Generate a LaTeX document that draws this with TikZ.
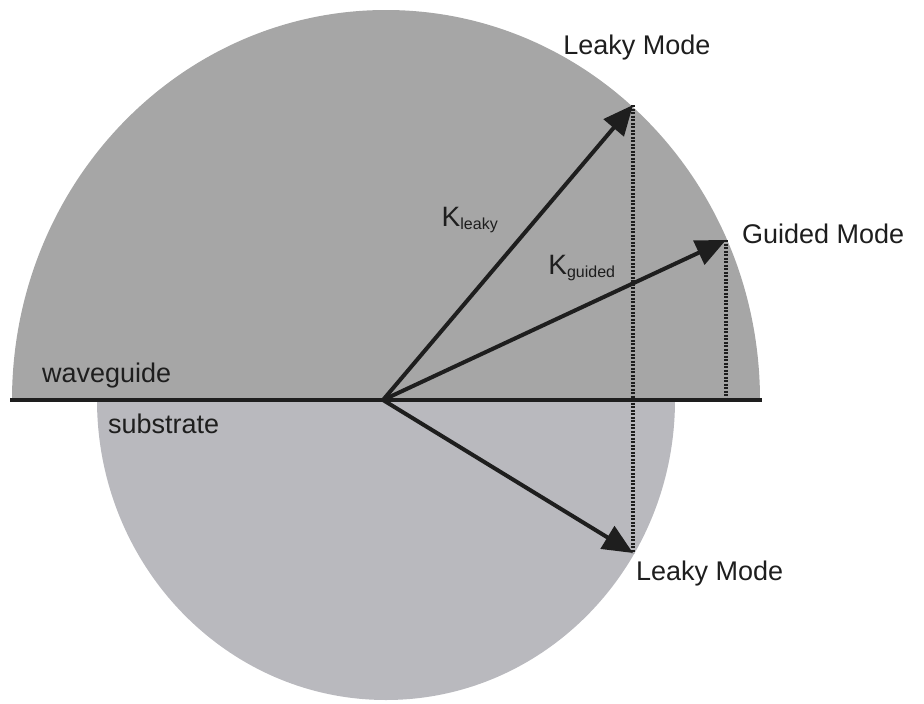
\documentclass[tikz,border=0pt]{standalone}
\usepackage{fontspec}
\setmainfont{Liberation Sans}
\usetikzlibrary{arrows.meta}
\definecolor{upgray}{RGB}{166,166,166}
\definecolor{lowgray}{RGB}{185,185,190}
\definecolor{ink}{RGB}{30,30,30}
\begin{document}
\begin{tikzpicture}[x=1pt,y=-1pt,
  vec/.style={draw=ink,line width=4pt,-{Triangle[length=30pt,width=26pt]}},
  proj/.style={draw=ink,line width=3.4pt,dash pattern=on 2.2pt off 1.3pt},
  lbl/.style={text=ink,font=\fontsize{27}{30}\selectfont,inner sep=0pt},
  klbl/.style={text=ink,font=\fontsize{28}{30}\selectfont,inner sep=0pt}]
\useasboundingbox (0,0) rectangle (924,704);
\begin{scope}
  \clip (0,0) rectangle (924,400);
  \fill[upgray] (386,400) ellipse [x radius=374, y radius=390];
\end{scope}
\begin{scope}
  \clip (0,400) rectangle (924,704);
  \fill[lowgray] (386,400) ellipse [x radius=289, y radius=300];
\end{scope}
\coordinate (O) at (383,400);
\coordinate (tl) at (633,105);
\coordinate (tg) at (726,240);
\coordinate (td) at (633,553);
\coordinate (gb) at (726,400);
\coordinate (lw) at (10,400);
\coordinate (le) at (762,400);
\draw[proj] (tl) -- (td);
\draw[proj] (tg) -- (gb);
\draw[ink,line width=4pt] (lw) -- (le);
\draw[vec] (O) -- (tl);
\draw[vec] (O) -- (tg);
\draw[vec] (O) -- (td);
\node[lbl] (lt) at (637,48) {Leaky Mode};
\node[lbl,anchor=west] (gm) at (742,234) {Guided Mode};
\node[lbl,anchor=west] (lb) at (636,574) {Leaky Mode};
\node[lbl,anchor=west] (wg) at (42,376) {waveguide};
\node[lbl,anchor=west] (sb) at (108,424) {substrate};
\node[klbl] (kl) at (470,220) {K\textsubscript{\fontsize{16}{18}\selectfont leaky}};
\node[klbl] (kg) at (582,268) {K\textsubscript{\fontsize{16}{18}\selectfont guided}};
\end{tikzpicture}
\end{document}
